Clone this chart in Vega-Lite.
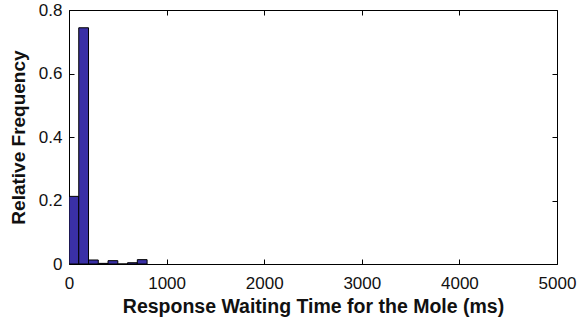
{
  "$schema": "https://vega.github.io/schema/vega-lite/v6.json",
  "width": 488,
  "height": 254,
  "autosize": {"type": "none"},
  "padding": {"left": 69, "top": 10, "right": 20, "bottom": 60},
  "background": "white",
  "config": {
    "view": {"stroke": "black", "strokeWidth": 1},
    "font": "Liberation Sans",
    "axis": {
      "domain": false,
      "grid": false,
      "tickColor": "black",
      "tickSize": -5,
      "labelFont": "Liberation Sans",
      "labelFontSize": 17,
      "labelColor": "#111",
      "titleFont": "Liberation Sans",
      "titleFontSize": 19,
      "titleFontWeight": "bold",
      "titleColor": "#111"
    }
  },
  "data": {
    "values": [
      {"bin_start": 0, "bin_end": 100, "freq": 0.213},
      {"bin_start": 100, "bin_end": 200, "freq": 0.744},
      {"bin_start": 200, "bin_end": 300, "freq": 0.0126},
      {"bin_start": 300, "bin_end": 400, "freq": 0.002},
      {"bin_start": 400, "bin_end": 500, "freq": 0.0105},
      {"bin_start": 500, "bin_end": 600, "freq": 0},
      {"bin_start": 600, "bin_end": 700, "freq": 0.004},
      {"bin_start": 700, "bin_end": 800, "freq": 0.0137}
    ]
  },
  "layer": [
    {
      "mark": {"type": "bar", "fill": "#3a30a6", "stroke": "black", "strokeWidth": 1, "clip": true},
      "encoding": {
        "x": {
          "field": "bin_start", "type": "quantitative",
          "scale": {"domain": [0, 5000], "nice": false, "zero": false},
          "axis": {"orient": "bottom", "values": [0, 1000, 2000, 3000, 4000, 5000], "format": "d", "title": "Response Waiting Time for the Mole (ms)", "titleFontSize": 19.5, "labelPadding": 16, "titlePadding": 6, "labelFlush": false}
        },
        "x2": {"field": "bin_end"},
        "y": {
          "field": "freq", "type": "quantitative",
          "scale": {"domain": [0, 0.8], "nice": false},
          "axis": {"orient": "left", "values": [0, 0.2, 0.4, 0.6, 0.8], "format": "~g", "title": "Relative Frequency", "labelPadding": 12, "titlePadding": 10, "labelFlush": false}
        },
        "y2": {"datum": 0}
      }
    },
    {
      "mark": {"type": "bar", "opacity": 0},
      "encoding": {
        "x": {
          "field": "bin_start", "type": "quantitative",
          "axis": {"orient": "top", "values": [0, 1000, 2000, 3000, 4000, 5000], "labels": false, "title": null}
        },
        "x2": {"field": "bin_end"},
        "y": {
          "field": "freq", "type": "quantitative",
          "axis": {"orient": "right", "values": [0, 0.2, 0.4, 0.6, 0.8], "labels": false, "title": null}
        },
        "y2": {"datum": 0}
      }
    }
  ],
  "resolve": {"axis": {"x": "independent", "y": "independent"}}
}
